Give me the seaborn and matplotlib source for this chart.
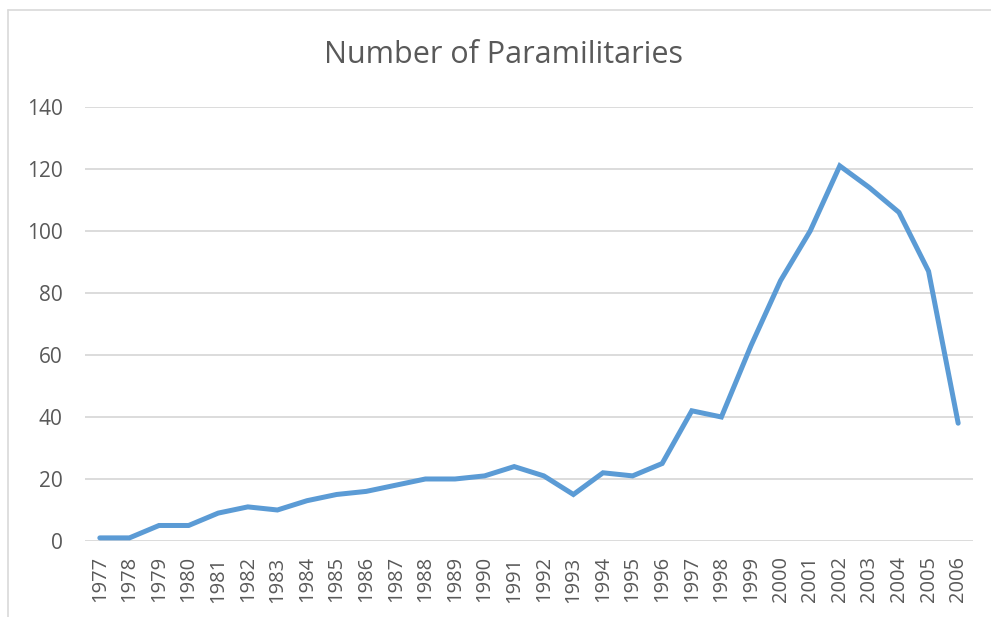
import numpy as np
import pandas as pd
import matplotlib
matplotlib.use("Agg")
import matplotlib.pyplot as plt
from matplotlib.lines import Line2D
import seaborn as sns

# Data
years = [str(y) for y in range(1977, 2007)]
paramilitaries = [1, 1, 5, 5, 9, 11, 10, 13, 15, 16, 18, 20, 20, 21, 24,
                  21, 15, 22, 21, 25, 42, 40, 63, 84, 100, 121, 114, 106, 87, 38]
y_ticks = [0, 20, 40, 60, 80, 100, 120, 140]

df = pd.DataFrame({"year": years, "count": paramilitaries})

sns.set_theme(style="white")
plt.rcParams['font.family'] = ['Open Sans', 'DejaVu Sans']

grey_text = "#595959"
grid_col = "#d9d9d9"

fig = plt.figure(figsize=(9.91, 6.17), dpi=100)
ax = fig.add_axes([0.0858, 0.1232, 0.8960, 0.7034])

sns.lineplot(data=df, x="year", y="count", ax=ax, color="#5b9bd5",
             linewidth=3.6, sort=False, solid_joinstyle="miter")

ax.set_xlim(-0.5, len(years) - 0.5)
ax.set_ylim(0, 140)
ax.set_yticks(y_ticks)
ax.yaxis.grid(True, color=grid_col, linewidth=1.3)
ax.set_axisbelow(True)
for s in ax.spines.values():
    s.set_visible(False)

ax.tick_params(axis="x", labelrotation=90, labelsize=14.5, colors=grey_text,
               length=0, pad=11)
ax.tick_params(axis="y", labelsize=15, colors=grey_text, length=0, pad=16)
ax.set_xlabel("")
ax.set_ylabel("")

fig.text(0.508, 0.911, "Number of Paramilitaries", ha="center", va="center",
         fontsize=22, color=grey_text)

# light chart border (left and top only)
fig.add_artist(Line2D([0.008, 0.008], [0.0, 0.984], color=grid_col, linewidth=1.2))
fig.add_artist(Line2D([0.008, 1.0], [0.984, 0.984], color=grid_col, linewidth=1.2))

fig.savefig("out.png", dpi=100, facecolor="white")
